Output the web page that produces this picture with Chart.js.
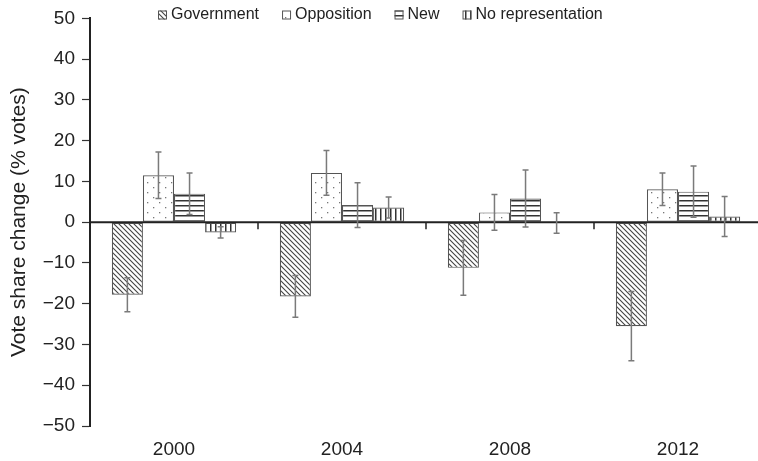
<!DOCTYPE html>
<html>
<head>
<meta charset="utf-8">
<script src="https://cdn.jsdelivr.net/npm/chart.js@4.4.0/dist/chart.umd.min.js"></script>
<style>
  html, body { margin: 0; padding: 0; overflow: hidden; background: #fff; }
  #wrap { width: 762px; height: 461px; }
</style>
</head>
<body>
<div id="wrap"><canvas id="voteChart"></canvas></div>
<script>
// ===== Data =====
const years = ['2000', '2004', '2008', '2012'];
const government = [-17.8, -18.2, -11.2, -25.5];
const opposition = [11.5, 12.1, 2.4, 8.1];
const newParties = [7.0, 4.2, 5.8, 7.5];
const noRepresentation = [-2.5, 3.6, -0.2, 1.4];
// error bar half-widths
const governmentErr = [4.2, 5.1, 6.7, 8.5];
const oppositionErr = [5.7, 5.5, 4.4, 4.0];
const newErr = [5.1, 5.5, 7.0, 6.3];
const noRepresentationErr = [1.4, 2.6, 2.5, 4.9];
const yMin = -50, yMax = 50, yStep = 10;

const canvas = document.getElementById('voteChart');
const mainCtx = canvas.getContext('2d');
const fontFamily = '"Liberation Sans", Arial, sans-serif';
Chart.defaults.font.family = fontFamily;

// ===== Fill patterns =====
function makePattern(w, h, draw) {
  const c = document.createElement('canvas');
  c.width = w; c.height = h;
  const g = c.getContext('2d');
  g.fillStyle = '#fff';
  g.fillRect(0, 0, w, h);
  draw(g);
  return mainCtx.createPattern(c, 'repeat');
}

const hatchPattern = makePattern(5, 5, g => {
  g.strokeStyle = '#444';
  g.lineWidth = 1.1;
  g.beginPath();
  g.moveTo(-1, -1); g.lineTo(6, 6);
  g.moveTo(-1, 4); g.lineTo(1, 6);
  g.moveTo(4, -1); g.lineTo(6, 1);
  g.stroke();
});

const dotPattern = makePattern(12, 10, g => {
  g.fillStyle = '#777';
  g.fillRect(3, 2, 1.3, 1.3);
  g.fillRect(9, 7, 1.3, 1.3);
});

const hLinePattern = makePattern(5, 5, g => {
  g.fillStyle = '#333';
  g.fillRect(0, 0, 5, 1);
  g.fillStyle = '#999';
  g.fillRect(0, 1, 5, 1);
});

const vLinePattern = makePattern(5, 5, g => {
  g.fillStyle = '#333';
  g.fillRect(0, 0, 1, 5);
  g.fillStyle = '#999';
  g.fillRect(1, 0, 1, 5);
});

// ===== Plugins =====
const groupTicks = {
  id: 'groupTicks',
  afterDatasetsDraw(chart) {
    const { ctx, scales: { x, y } } = chart;
    const y0 = y.getPixelForValue(0);
    ctx.save();
    ctx.strokeStyle = '#222';
    ctx.lineWidth = 1.5;
    for (let i = 0; i < years.length - 1; i++) {
      const xs = (x.getPixelForValue(i) + x.getPixelForValue(i + 1)) / 2;
      ctx.beginPath();
      ctx.moveTo(xs, y0);
      ctx.lineTo(xs, y0 + 7);
      ctx.stroke();
    }
    ctx.lineWidth = 2;
    ctx.beginPath();
    ctx.moveTo(x.left, y0);
    ctx.lineTo(x.right, y0);
    ctx.stroke();
    ctx.restore();
  }
};

const errorBars = {
  id: 'errorBars',
  afterDatasetsDraw(chart) {
    const { ctx, scales: { y } } = chart;
    ctx.save();
    ctx.strokeStyle = '#7a7a7a';
    ctx.lineWidth = 1.5;
    chart.data.datasets.forEach((ds, i) => {
      chart.getDatasetMeta(i).data.forEach((bar, j) => {
        const v = ds.data[j], e = ds.errors[j];
        const top = y.getPixelForValue(v + e);
        const bot = y.getPixelForValue(v - e);
        ctx.beginPath();
        ctx.moveTo(bar.x, top); ctx.lineTo(bar.x, bot);
        ctx.moveTo(bar.x - 3, top); ctx.lineTo(bar.x + 3, top);
        ctx.moveTo(bar.x - 3, bot); ctx.lineTo(bar.x + 3, bot);
        ctx.stroke();
      });
    });
    ctx.restore();
  }
};

// one-row legend inside the plot, level with the top tick
const legendRow = {
  id: 'legendRow',
  afterDraw(chart) {
    const ctx = chart.ctx;
    const box = 9, gap = 4, itemGap = 23, cy = 15;
    ctx.save();
    ctx.font = '16px ' + fontFamily;
    ctx.textBaseline = 'middle';
    const items = chart.data.datasets;
    const widths = items.map(ds => box + gap + ctx.measureText(ds.label).width);
    const total = widths.reduce((a, b) => a + b, 0) + itemGap * (items.length - 1);
    let x = Math.round((chart.width - total) / 2) - 1;
    items.forEach((ds, i) => {
      ctx.fillStyle = ds.backgroundColor;
      ctx.fillRect(x, cy - box / 2, box, box);
      ctx.strokeStyle = '#555';
      ctx.lineWidth = 1;
      ctx.strokeRect(x + 0.5, cy - box / 2 + 0.5, box - 1, box - 1);
      ctx.fillStyle = '#222';
      ctx.fillText(ds.label, x + box + gap, cy);
      x += widths[i] + itemGap;
    });
    ctx.restore();
  }
};

const barStyle = { borderColor: '#555', borderWidth: 1.2, borderSkipped: false };

new Chart(canvas, {
  type: 'bar',
  data: {
    labels: years,
    datasets: [
      { label: 'Government', data: government, errors: governmentErr, backgroundColor: hatchPattern, ...barStyle },
      { label: 'Opposition', data: opposition, errors: oppositionErr, backgroundColor: dotPattern, ...barStyle },
      { label: 'New', data: newParties, errors: newErr, backgroundColor: hLinePattern, ...barStyle },
      { label: 'No representation', data: noRepresentation, errors: noRepresentationErr, backgroundColor: vLinePattern, ...barStyle }
    ]
  },
  options: {
    responsive: true,
    maintainAspectRatio: false,
    animation: false,
    categoryPercentage: 0.74,
    barPercentage: 1,
    layout: { padding: { top: 15, left: 0, right: 0, bottom: 0 } },
    plugins: {
      legend: { display: false },
      tooltip: { enabled: false }
    },
    scales: {
      x: {
        afterFit(scale) { scale.height = 35; },
        grid: { display: false },
        border: { display: false },
        ticks: { padding: 4, color: '#222', font: { size: 19 } }
      },
      y: {
        min: yMin,
        max: yMax,
        afterFit(scale) { scale.width = 90; },
        ticks: {
          stepSize: yStep,
          padding: 7,
          color: '#222',
          font: { size: 19 },
          callback: v => String(v).replace('-', '\u2212')
        },
        grid: { drawOnChartArea: false, tickLength: 8, tickColor: '#333', tickWidth: 1.2 },
        border: { color: '#222', width: 2 },
        title: {
          display: true,
          text: 'Vote share change (% votes)',
          color: '#222',
          font: { size: 21 },
          padding: { top: 7, bottom: 0 }
        }
      }
    }
  },
  plugins: [groupTicks, errorBars, legendRow]
});
</script>
</body>
</html>
